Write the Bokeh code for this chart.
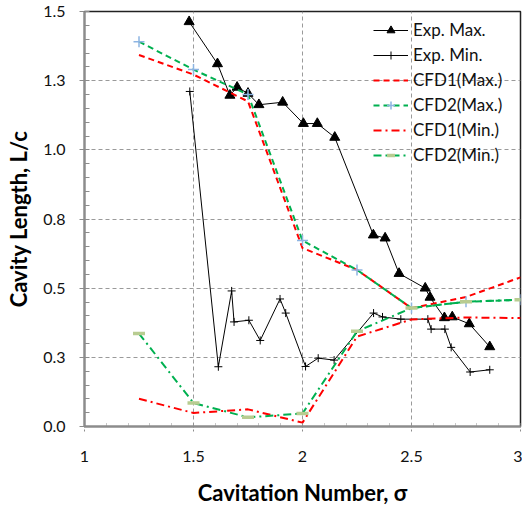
import numpy as np
from bokeh.plotting import figure
from bokeh.models import Range1d, FixedTicker, Legend, LegendItem
from bokeh.embed import file_html
from bokeh.resources import INLINE

# ---------------- data ----------------
exp_max_x = [1.48, 1.61, 1.667, 1.70, 1.75, 1.80, 1.909, 2.004, 2.068, 2.148,
             2.325, 2.379, 2.443, 2.563, 2.585, 2.651, 2.687, 2.765, 2.859]
exp_max_y = [1.463, 1.311, 1.197, 1.226, 1.204, 1.163, 1.172, 1.095, 1.095, 1.045,
             0.692, 0.681, 0.553, 0.500, 0.467, 0.393, 0.396, 0.371, 0.288]

exp_min_x = [1.483, 1.614, 1.675, 1.686, 1.754, 1.806, 1.897, 1.923, 2.014, 2.072,
             2.145, 2.326, 2.367, 2.451, 2.575, 2.590, 2.653, 2.682, 2.769, 2.859]
exp_min_y = [1.211, 0.216, 0.490, 0.378, 0.384, 0.311, 0.461, 0.410, 0.217, 0.247,
             0.240, 0.410, 0.396, 0.388, 0.388, 0.352, 0.352, 0.286, 0.197, 0.205]

cfd_x = [1.25, 1.5, 1.75, 2.0, 2.25, 2.5, 2.75, 3.0]
cfd1_max = [1.343, 1.272, 1.175, 0.645, 0.566, 0.428, 0.468, 0.539]
cfd2_max = [1.391, 1.290, 1.200, 0.672, 0.566, 0.428, 0.451, 0.458]
cfd1_min = [0.100, 0.049, 0.062, 0.014, 0.325, 0.387, 0.394, 0.392]
cfd2_min = [0.336, 0.085, 0.033, 0.047, 0.344, 0.428, 0.451, 0.458]

x_ticks = [1.0, 1.5, 2.0, 2.5, 3.0]
x_tick_labels = ["1", "1.5", "2", "2.5", "3"]
y_ticks = [0.0, 0.25, 0.5, 0.75, 1.0, 1.25, 1.5]
y_tick_labels = ["0.0", "0.3", "0.5", "0.8", "1.0", "1.3", "1.5"]

x_title = "Cavitation Number, σ"
y_title = "Cavity Length, L/c"
series_names = ["Exp. Max.", "Exp. Min.", "CFD1(Max.)", "CFD2(Max.)", "CFD1(Min.)", "CFD2(Min.)"]

# ---------------- figure ----------------
FONT = "Lato"
p = figure(width=522, height=508, output_backend="svg", toolbar_location=None,
           x_range=Range1d(1, 3), y_range=Range1d(0, 1.5),
           min_border_left=84, min_border_right=2, min_border_top=11, min_border_bottom=82)
p.background_fill_color = "white"
p.border_fill_color = "white"
p.outline_line_color = "#222222"
p.outline_line_width = 1.5

x_minor = [round(v, 2) for v in np.arange(1.0, 3.0001, 0.1)]
y_minor = [round(v, 2) for v in np.arange(0.0, 1.5001, 0.05)]

p.xaxis.ticker = FixedTicker(ticks=x_ticks, minor_ticks=x_minor)
p.yaxis.ticker = FixedTicker(ticks=y_ticks, minor_ticks=y_minor)
p.xaxis.major_label_overrides = {float(k): v for k, v in zip(x_ticks, x_tick_labels)}
p.yaxis.major_label_overrides = {float(k): v for k, v in zip(y_ticks, y_tick_labels)}

p.xgrid.ticker = FixedTicker(ticks=x_ticks)
p.ygrid.ticker = FixedTicker(ticks=y_ticks)
for g in (p.xgrid, p.ygrid):
    g.grid_line_color = "#9a9a9a"
    g.grid_line_dash = "4 3"
    g.grid_line_width = 1

for ax in (p.xaxis, p.yaxis):
    ax.axis_line_color = "#8c8c8c"
    ax.axis_line_width = 2
    ax.major_tick_line_color = "#8c8c8c"
    ax.minor_tick_line_color = "#8c8c8c"
    ax.major_tick_in = 0
    ax.major_tick_out = 5
    ax.minor_tick_out = 0
    ax.major_label_text_font = FONT
    ax.major_label_text_font_size = "16px"
    ax.major_label_text_color = "#111111"
    ax.axis_label_text_font = FONT
    ax.axis_label_text_font_size = "22px"
    ax.axis_label_text_font_style = "bold"
    ax.axis_label_text_color = "black"

p.yaxis.minor_tick_in = 5
p.yaxis.major_label_standoff = 14
p.yaxis.axis_label_standoff = 8
p.yaxis.axis_label = y_title

p.xaxis.minor_tick_in = 4
p.xaxis.minor_tick_line_dash = "1 1"
p.xaxis.major_tick_line_dash = "2 2"
p.xaxis.major_label_standoff = 19
p.xaxis.axis_label_standoff = 14
p.xaxis.axis_label = x_title

# ---------------- series ----------------
RED = "#FF0000"
GREEN = "#00B050"
DASH = "6 4"
DASHDOT = "8 4 2 4"

l1 = p.line(exp_max_x, exp_max_y, line_color="black", line_width=1)
m1 = p.scatter(exp_max_x, exp_max_y, marker="triangle", size=10,
               fill_color="black", line_color="black")
l2 = p.line(exp_min_x, exp_min_y, line_color="black", line_width=1)
m2 = p.scatter(exp_min_x, exp_min_y, marker="cross", size=8,
               line_color="black", line_width=1)

l3 = p.line(cfd_x, cfd1_max, line_color=RED, line_width=2, line_dash=DASH)
l4 = p.line(cfd_x, cfd2_max, line_color=GREEN, line_width=2, line_dash=DASH)
m4 = p.scatter(cfd_x, cfd2_max, marker="cross", size=11, line_color="#8DB4E2", line_width=1.5)
l5 = p.line(cfd_x, cfd1_min, line_color=RED, line_width=2, line_dash=DASHDOT)
l6 = p.line(cfd_x, cfd2_min, line_color=GREEN, line_width=2, line_dash=DASHDOT)
m6 = p.scatter(cfd_x, cfd2_min, marker="dash", size=12, line_color="#B8CC91", line_width=3.5)

items = [
    LegendItem(label=series_names[0], renderers=[l1, m1]),
    LegendItem(label=series_names[1], renderers=[l2, m2]),
    LegendItem(label=series_names[2], renderers=[l3]),
    LegendItem(label=series_names[3], renderers=[l4, m4]),
    LegendItem(label=series_names[4], renderers=[l5]),
    LegendItem(label=series_names[5], renderers=[l6, m6]),
]
legend = Legend(items=items, location=(289, 261))
legend.padding = 0
legend.margin = 0
legend.spacing = 4
legend.label_height = 20
legend.glyph_height = 20
legend.glyph_width = 35
legend.label_standoff = 5
legend.label_text_font = FONT
legend.label_text_font_size = "17px"
legend.label_text_color = "#111111"
legend.background_fill_alpha = 0
legend.border_line_alpha = 0
p.add_layout(legend)

open("out.html", "w").write(file_html(p, INLINE))
